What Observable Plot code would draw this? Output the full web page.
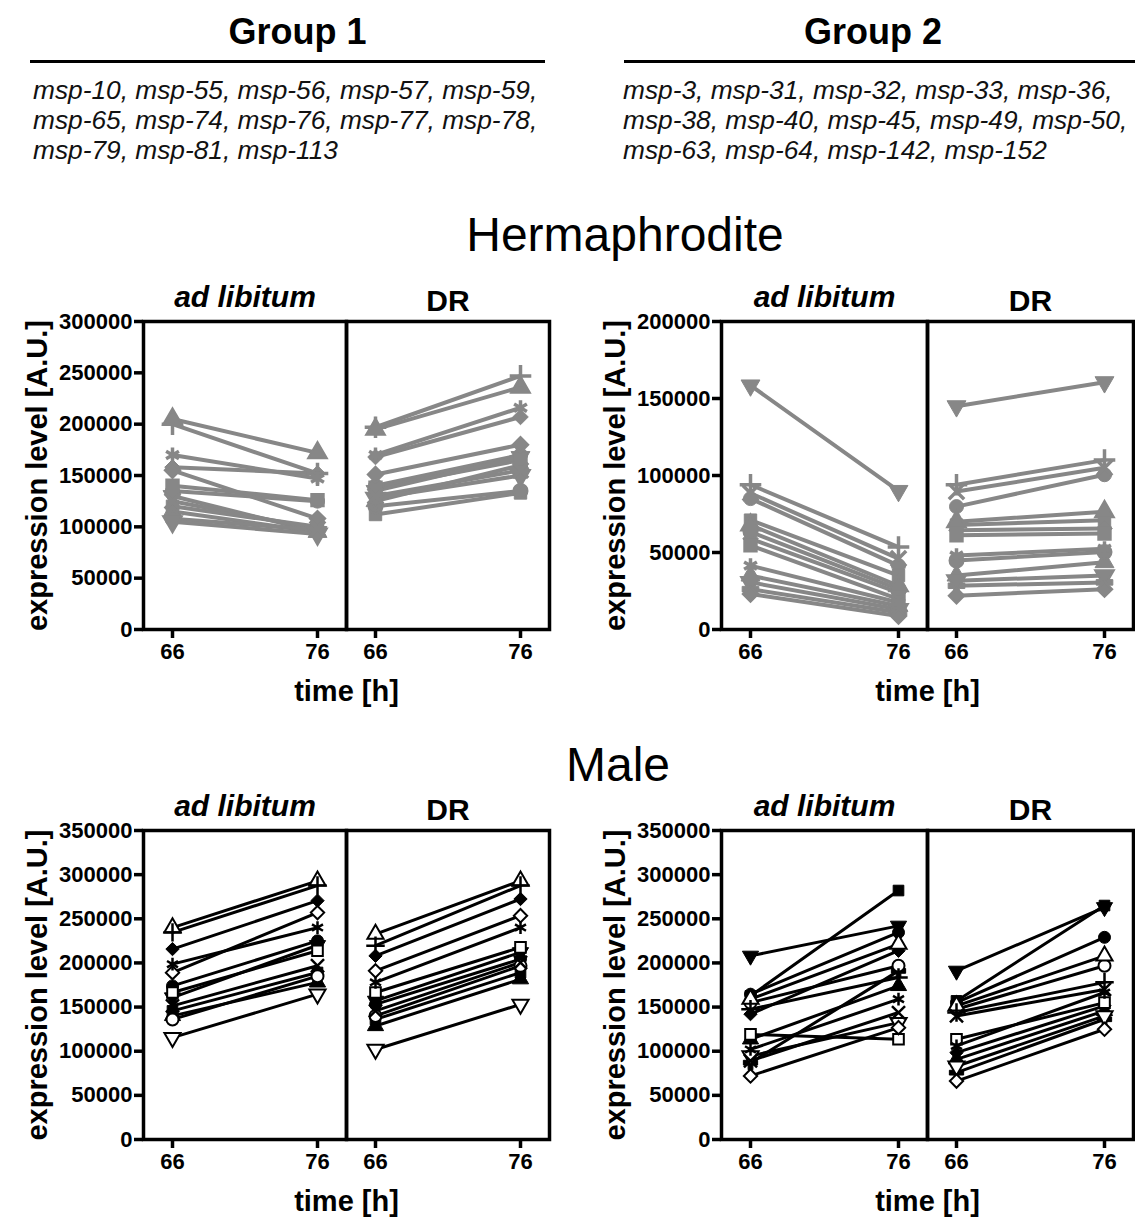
<!DOCTYPE html>
<html><head><meta charset="utf-8">
<script src="https://cdn.jsdelivr.net/npm/d3@7"></script>
<script src="https://cdn.jsdelivr.net/npm/@observablehq/plot@0.6"></script>
<style>
body{margin:0;background:#fff;}
#page{position:relative;width:1135px;height:1220px;font-family:"Liberation Sans",Arial,sans-serif;overflow:hidden;background:#fff;color:#000}
.abs{position:absolute;}
.grp{font-weight:bold;font-size:36px;line-height:36px;text-align:center;}
.rule{height:3px;background:#000;}
.genes{font-style:italic;font-size:26.3px;line-height:30px;color:#111;white-space:nowrap;}
.sex{font-size:48px;line-height:60px;text-align:center;}
</style></head><body>
<div id="page">
  <div class="abs grp" style="left:40px;top:14px;width:515px;">Group 1</div>
  <div class="abs rule" style="left:30px;top:60px;width:515px;"></div>
  <div class="abs genes" id="genes1" style="left:33px;top:75px;"></div>
  <div class="abs grp" style="left:616px;top:14px;width:514px;">Group 2</div>
  <div class="abs rule" style="left:624px;top:60px;width:511px;"></div>
  <div class="abs genes" id="genes2" style="left:623px;top:75px;"></div>
  <div class="abs sex" style="left:425px;top:205px;width:400px;">Hermaphrodite</div>
  <div class="abs sex" style="left:418px;top:735px;width:400px;">Male</div>
  <div class="abs" id="p1" style="left:0px;top:250px;"></div>
  <div class="abs" id="p2" style="left:578px;top:250px;"></div>
  <div class="abs" id="p3" style="left:0px;top:770px;"></div>
  <div class="abs" id="p4" style="left:578px;top:770px;"></div>
</div>
<script>
// ---------- data ----------
const conditions = ["ad libitum", "DR"];
const times = [66, 76];
const group1Genes = ["msp-10","msp-55","msp-56","msp-57","msp-59","msp-65","msp-74","msp-76","msp-77","msp-78","msp-79","msp-81","msp-113"];
const group2Genes = ["msp-3","msp-31","msp-32","msp-33","msp-36","msp-38","msp-40","msp-45","msp-49","msp-50","msp-63","msp-64","msp-142","msp-152"];

const ticksHermG1 = [0,50000,100000,150000,200000,250000,300000];
const ticksHermG2 = [0,50000,100000,150000,200000];
const ticksMale = [0,50000,100000,150000,200000,250000,300000,350000];

// Hermaphrodite, Group 1
const hermG1_al66 = [205000,200000,158000,170000,155000,135000,140000,130000,125000,120000,115000,108000,105000];
const hermG1_al76 = [172000,152000,152000,147000,108000,125000,126000,95000,98000,100000,95000,97000,93000];
const hermG1_dr66 = [195000,197000,168000,170000,151000,140000,138000,135000,130000,112000,125000,120000,128000];
const hermG1_dr76 = [236000,247000,207000,216000,180000,170000,165000,168000,155000,133000,160000,135000,150000];
// Hermaphrodite, Group 2
const hermG2_al66 = [158500,71000,85000,67800,63400,94000,88500,59000,54600,41500,23000,35000,30600,26200];
const hermG2_al76 = [90000,35000,41500,28400,26200,53500,46000,24000,19700,17500,8700,15300,13100,11000];
const hermG2_dr66 = [145000,67800,79800,70000,44800,94000,89600,64500,61200,48000,21900,35000,31700,28400];
const hermG2_dr76 = [160600,71000,100500,76500,50300,110000,105000,65600,62300,52500,26200,43700,35000,30600];
// Male, Group 1
const maleG1_al66 = [240000,234600,215700,198600,189000,174000,166500,160800,151400,145700,140000,136000,115400];
const maleG1_al76 = [293000,287600,270500,240000,257000,225000,213800,220000,196800,189200,178000,185000,164600];
const maleG1_dr66 = [232700,219500,208000,178000,191000,153000,166500,157000,145700,136000,128600,140000,102000];
const maleG1_dr76 = [293000,287600,272400,240000,253500,204300,217600,212000,200500,189000,181600,196700,153000];
// Male, Group 2
const maleG2_al66 = [208000,162700,164600,159000,155000,147600,89000,142000,119000,102000,72000,113500,94600,87000];
const maleG2_al76 = [242000,282000,234600,221400,196800,183500,143800,213800,113500,159000,126700,174000,132400,191000];
const maleG2_dr66 = [191000,157000,155000,151400,147600,143800,140000,98400,113500,106000,66200,90800,83000,75700];
const maleG2_dr76 = [263000,265000,229000,208000,196800,178000,170000,151400,155000,166500,124900,145700,140000,136200];

// ---------- styles ----------
const group1Symbols = ["triangleOpen","plus","diamond","asterisk","diamondOpen","circle","squareOpen","triangleDown","times","square","triangle","circleOpen","triangleDownOpen"];
const group2Symbols = ["triangleDown","square","circle","triangleOpen","circleOpen","plus","times","diamond","squareOpen","asterisk","diamondOpen","triangle","triangleDownOpen","cross"];

const s3 = Math.sqrt(3);
const triDown = {draw(ctx, size){ const y = -Math.sqrt(size/(s3*3)); ctx.moveTo(0,-y*2); ctx.lineTo(-s3*y, y); ctx.lineTo(s3*y, y); ctx.closePath(); }};
const symbolDefs = {
  circle:{type:d3.symbolCircle, kind:"filled"},
  square:{type:d3.symbolSquare, kind:"filled"},
  triangle:{type:d3.symbolTriangle, kind:"filled"},
  triangleDown:{type:triDown, kind:"filled"},
  diamond:{type:d3.symbolDiamond2, kind:"filled"},
  cross:{type:d3.symbolCross, kind:"filled"},
  circleOpen:{type:d3.symbolCircle, kind:"open"},
  squareOpen:{type:d3.symbolSquare, kind:"open"},
  triangleOpen:{type:d3.symbolTriangle, kind:"open"},
  triangleDownOpen:{type:triDown, kind:"open"},
  diamondOpen:{type:d3.symbolDiamond2, kind:"open"},
  plus:{type:d3.symbolPlus, kind:"stroke"},
  times:{type:d3.symbolTimes, kind:"stroke"},
  asterisk:{type:d3.symbolAsterisk, kind:"stroke"}
};

// gene lists
function geneLines(genes){
  const lines=[];
  for(let i=0;i<genes.length;i+=5) lines.push(genes.slice(i,i+5).join(", ") + (i+5<genes.length?",":""));
  return lines.join("<br>");
}
document.getElementById("genes1").innerHTML = geneLines(group1Genes);
document.getElementById("genes2").innerHTML = geneLines(group2Genes);

function makePanel(o){
  const rows = [];
  o.genes.forEach((g,i)=>{
    rows.push({gene:g, sym:o.symbols[i], cond:conditions[0], time:times[0], value:o.al66[i]});
    rows.push({gene:g, sym:o.symbols[i], cond:conditions[0], time:times[1], value:o.al76[i]});
    rows.push({gene:g, sym:o.symbols[i], cond:conditions[1], time:times[0], value:o.dr66[i]});
    rows.push({gene:g, sym:o.symbols[i], cond:conditions[1], time:times[1], value:o.dr76[i]});
  });
  const dotMarks = Object.keys(symbolDefs).map(name=>{
    const def = symbolDefs[name];
    const data = rows.filter(d=>d.sym===name);
    if(!data.length) return null;
    let fill, stroke, sw;
    if(def.kind==="filled"){ fill=o.color; stroke=o.color; sw=1; }
    else if(def.kind==="open"){ fill=o.gray?o.color:"white"; stroke=o.color; sw=2; }
    else { fill="none"; stroke=o.color; sw=o.gray?3.5:2.5; }
    return Plot.dot(data, {x:"time", y:"value", fx:"cond", symbol:def.type, r:o.r, fill, stroke, strokeWidth:sw});
  }).filter(Boolean);
  const font = "Liberation Sans, Arial, sans-serif";
  return Plot.plot({
    width:o.width, height:o.height,
    marginLeft:o.marginLeft, marginRight:o.marginRight, marginTop:o.marginTop, marginBottom:o.marginBottom,
    style:{background:"transparent", fontFamily:font, fontSize:"22px", fontWeight:"bold", color:"black", overflow:"visible"},
    fx:{domain:conditions, padding:0, axis:null, label:null},
    x:{domain:[66,76], insetLeft:29, insetRight:29},
    y:{domain:[0,o.yMax]},
    marks:[
      Plot.line(rows, {x:"time", y:"value", z:"gene", fx:"cond", stroke:o.color, strokeWidth:o.lineWidth}),
      ...dotMarks,
      Plot.frame({stroke:"black", strokeWidth:3.5}),
      Plot.axisY({ticks:o.yTicks, tickSize:9, tickPadding:2, tickFormat:d=>String(d), strokeWidth:3.5, label:null, fontSize:22, fontWeight:"bold"}),
      Plot.axisX({ticks:times, tickSize:9, tickPadding:5, tickFormat:d=>String(d), strokeWidth:3.5, label:null, fontSize:22, fontWeight:"bold"}),
      Plot.text([{cond:conditions[0]}], {fx:"cond", frameAnchor:"top", dy:-24, text:"cond", fontSize:30, fontWeight:"bold", fontStyle:"italic", lineAnchor:"middle", textAnchor:"middle"}),
      Plot.text([{cond:conditions[1]}], {fx:"cond", frameAnchor:"top", dy:-20, text:"cond", fontSize:30, fontWeight:"bold", lineAnchor:"middle", textAnchor:"middle"}),
      Plot.text([{cond:conditions[0], label:"expression level [A.U.]"}], {fx:"cond", frameAnchor:"left", dx:-106, rotate:-90, text:"label", fontSize:29, fontWeight:"bold", lineAnchor:"middle", textAnchor:"middle"}),
      Plot.text([{cond:conditions[1], label:"time [h]"}], {fx:"cond", frameAnchor:"bottom-left", dy:62, text:"label", fontSize:29, fontWeight:"bold", lineAnchor:"middle", textAnchor:"middle"})
    ]
  });
}

const gray = "#878787";
document.getElementById("p1").append(makePanel({genes:group1Genes, symbols:group1Symbols, al66:hermG1_al66, al76:hermG1_al76, dr66:hermG1_dr66, dr76:hermG1_dr76, yMax:300000, yTicks:ticksHermG1, color:gray, gray:true, r:7, lineWidth:4, width:560, height:470, marginLeft:142, marginRight:11, marginTop:71, marginBottom:91}));
document.getElementById("p2").append(makePanel({genes:group2Genes, symbols:group2Symbols, al66:hermG2_al66, al76:hermG2_al76, dr66:hermG2_dr66, dr76:hermG2_dr76, yMax:200000, yTicks:ticksHermG2, color:gray, gray:true, r:7, lineWidth:4, width:557, height:470, marginLeft:142, marginRight:2, marginTop:71, marginBottom:91}));
document.getElementById("p3").append(makePanel({genes:group1Genes, symbols:group1Symbols, al66:maleG1_al66, al76:maleG1_al76, dr66:maleG1_dr66, dr76:maleG1_dr76, yMax:350000, yTicks:ticksMale, color:"black", gray:false, r:6, lineWidth:3, width:560, height:450, marginLeft:142, marginRight:11, marginTop:60, marginBottom:81}));
document.getElementById("p4").append(makePanel({genes:group2Genes, symbols:group2Symbols, al66:maleG2_al66, al76:maleG2_al76, dr66:maleG2_dr66, dr76:maleG2_dr76, yMax:350000, yTicks:ticksMale, color:"black", gray:false, r:6, lineWidth:3, width:557, height:450, marginLeft:142, marginRight:2, marginTop:60, marginBottom:81}));
</script>
</body></html>
